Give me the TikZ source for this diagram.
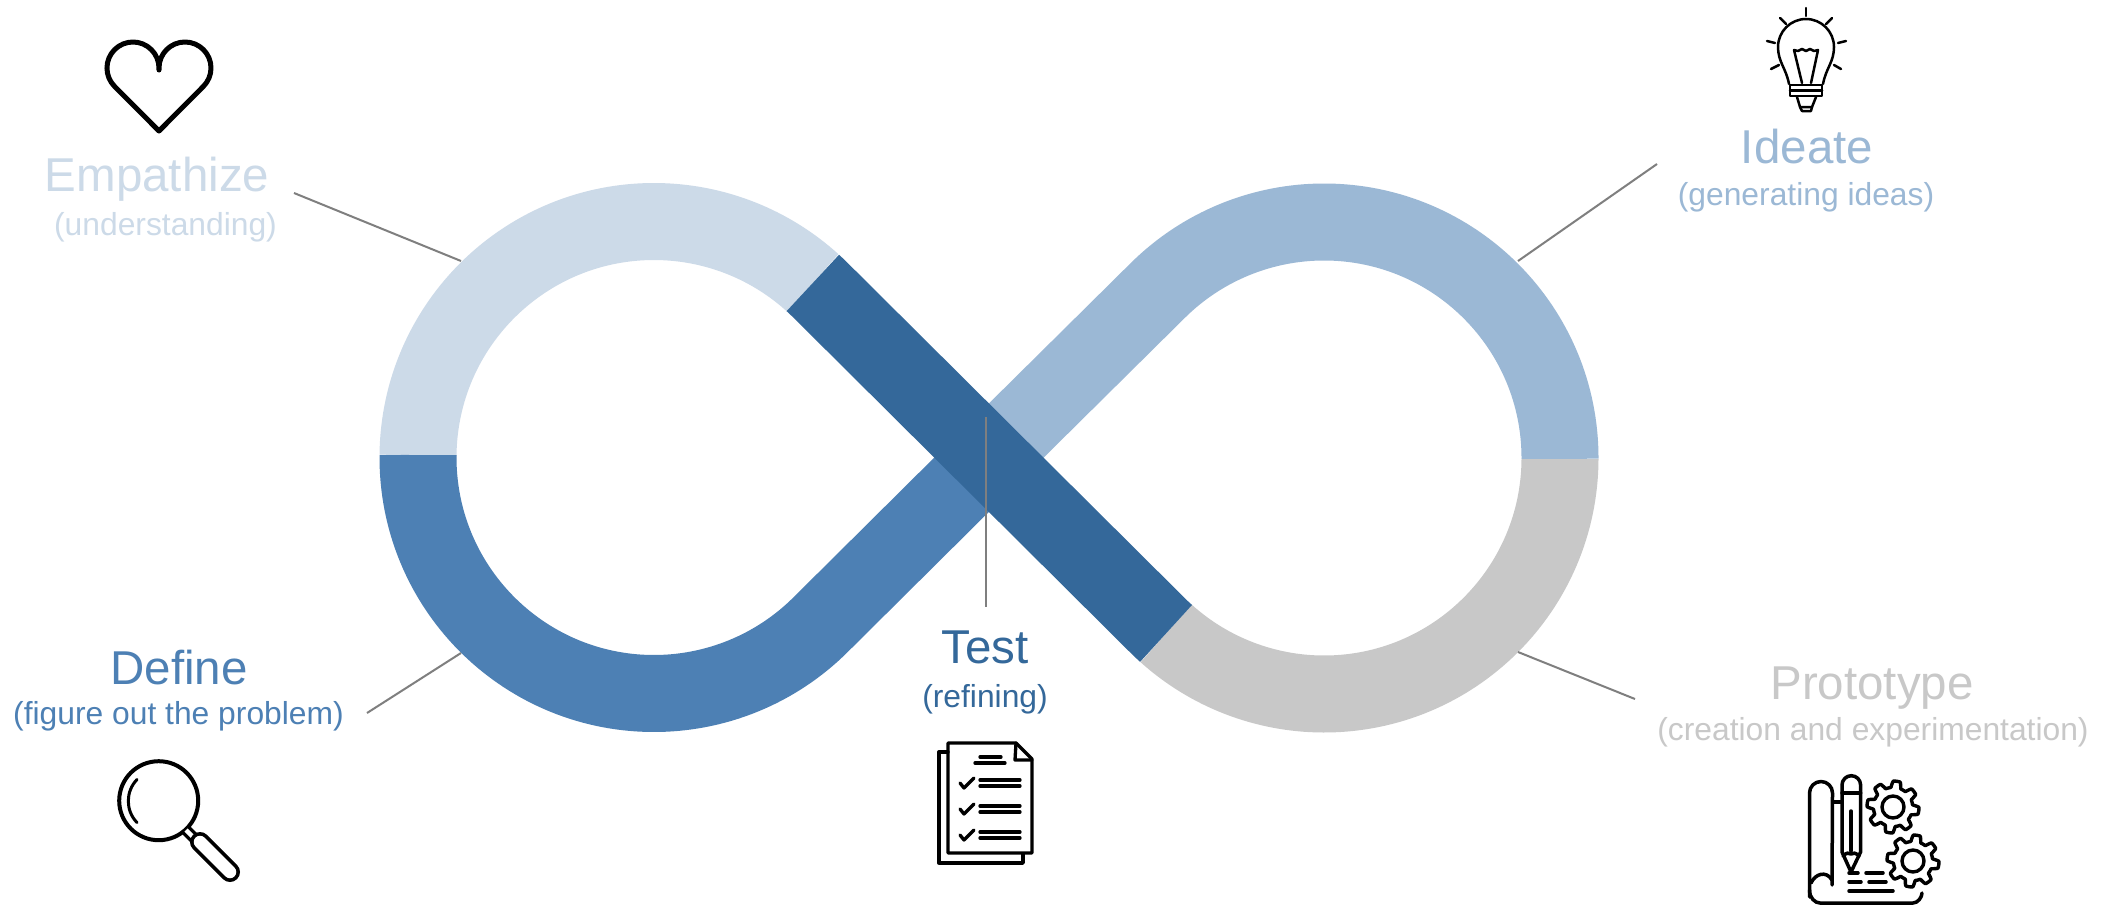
\documentclass[tikz,border=0pt]{standalone}
\usepackage{fontspec}
\setmainfont{Liberation Sans}
\definecolor{cEmp}{HTML}{CCDAE8}
\definecolor{cIde}{HTML}{9BB8D5}
\definecolor{cDef}{HTML}{4D80B4}
\definecolor{cPro}{HTML}{C8C8C8}
\definecolor{cTes}{HTML}{34689A}
\definecolor{cLin}{HTML}{7F7F7F}
\tikzset{
  band/.style={line width=77pt,line cap=butt,line join=round},
  leader/.style={draw=cLin,line width=2pt},
  titletext/.style={anchor=base,inner sep=0pt,font=\fontsize{47.5}{50}\selectfont},
  subtext/.style={anchor=base,inner sep=0pt,font=\fontsize{31.8}{34}\selectfont},
  icon/.style={draw=black,line cap=round,line join=round,line width=#1},
  icon/.default=3.3pt
}
\newcommand{\gearshape}[2]{%
  \draw[icon=3.4pt] plot[domain=0:360,samples=193,smooth] ({#1+(22.8+3.2*max(-1,min(1,2.2*sin(8*\x+22.5))))*cos(\x)},{#2+(22.8+3.2*max(-1,min(1,2.2*sin(8*\x+22.5))))*sin(\x)}) -- cycle;
  \draw[icon=3.4pt] (#1,#2) circle (11);
}
\begin{document}
\begin{tikzpicture}[x=1pt,y=-1pt]
\path[fill=white,use as bounding box] (0,0) rectangle (2115,905);

% infinity band
\draw[band,cEmp] (654,457.5) ++(180.6:236) arc (180.6:312.3:236);
\draw[band,cDef] (654,457.5) ++(180.6:236) arc (180.6:45:236) -- (989,457.5);
\draw[band,cPro] (1324,458) ++(0.2:236) arc (0.2:132:236);
\draw[band,cIde] (1324,458) ++(0.2:236) arc (0.2:-135:236) -- (989,457.5);
\draw[band,cTes] (654,457.5) ++(312.3:236) arc (312.3:315:236) -- (1157.1,624.9) arc (135:132:236);

% anchors of leaders
\coordinate (eA) at (294,193);
\coordinate (eB) at (461,261);
\coordinate (iA) at (1657,164);
\coordinate (iB) at (1518,261);
\coordinate (dA) at (367,713);
\coordinate (dB) at (461,653);
\coordinate (pA) at (1635,699);
\coordinate (pB) at (1518,652);
\coordinate (tA) at (986,417);
\coordinate (tB) at (986,607);
\draw[leader] (eA) -- (eB);
\draw[leader] (iA) -- (iB);
\draw[leader] (dA) -- (dB);
\draw[leader] (pA) -- (pB);
\draw[leader] (tA) -- (tB);

% labels
\node[titletext,text=cEmp] (empT) at (157,191) {Empathize};
\node[subtext,text=cEmp] (empS) at (165.5,235) {(understanding)};
\node[titletext,text=cIde] (ideT) at (1807,163) {Ideate};
\node[subtext,text=cIde] (ideS) at (1806,205) {(generating ideas)};
\node[titletext,text=cDef] (defT) at (179,684) {Define};
\node[subtext,text=cDef] (defS) at (178.5,724) {(figure out the problem)};
\node[titletext,text=cTes] (tesT) at (985,663) {Test};
\node[subtext,text=cTes] (tesS) at (985,707) {(refining)};
\node[titletext,text=cPro] (proT) at (1872,699) {Prototype};
\node[subtext,text=cPro] (proS) at (1873,740) {(creation and experimentation)};

% heart
\draw[icon=5pt] (159,131) -- (114.6,86.4) arc (135:360:26) -- (159,70) -- (159,68) arc (180:405:26) -- cycle;

% bulb
\begin{scope}[icon=2.5pt]
\draw (1806,8) -- (1806,16);
\draw (1780,18) -- (1786,24);
\draw (1832,18) -- (1826,24);
\draw (1767,41) -- (1775,43);
\draw (1846,41) -- (1838,43);
\draw (1771,69) -- (1779,65);
\draw (1841,69) -- (1834,65);
\draw (1789,84) .. controls (1786,68) and (1778,62) .. (1778,47) arc (180:360:28) .. controls (1834,62) and (1826,68) .. (1823,84);
\draw (1802,83) -- (1794,50) -- (1798,51) -- (1802,49) -- (1806,51) -- (1810,49) -- (1814,51) -- (1818,50) -- (1811,83);
\draw (1790,85) -- (1822,85) (1790,85) -- (1790,96) -- (1822,96) -- (1822,85);
\draw (1790,90.5) -- (1822,90.5);
\draw (1797,97) -- (1800,107) -- (1812,107) -- (1816,97);
\draw (1800,107) -- (1802,111) -- (1811,111) -- (1812,107);
\end{scope}

% magnifier
\draw[icon=4pt] (158.7,800.7) circle (39.5);
\draw[icon=3pt] (137,779.5) arc (224:136:31);
\draw[line width=11pt,black] (186,830) -- (194,838);
\draw[line width=4.5pt,white] (186,830) -- (194,838);
\draw[line width=20pt,black,line cap=round] (200,842) -- (230,872);
\draw[line width=12.5pt,white,line cap=round] (200,842) -- (230,872);

% checklist
\begin{scope}[icon=3.3pt]
\draw (948,752) -- (939,752) -- (939,863) -- (1023,863) -- (1023,854);
\draw (948,743) -- (1016,743) -- (1032,759) -- (1032,853) -- (948,853) -- cycle;
\draw (1016,743) -- (1015,760) -- (1032,760);
\draw (980,757) -- (1001,757);
\draw (975,763) -- (1005,763);
\foreach \d in {0,26,52}{
  \draw (960,783+\d) -- (964,788+\d) -- (974,778+\d);
  \draw (980,780+\d) -- (1020,780+\d);
  \draw (980,786+\d) -- (1020,786+\d);
}
\end{scope}

% prototype
\begin{scope}[icon=3.5pt]
\draw (1809.5,897) -- (1809.5,793) arc (180:360:11.5) -- (1832,885);
\draw (1811,883) .. controls (1815,874) and (1826,870) .. (1832,880);
\draw (1809.5,890) .. controls (1809.5,898) and (1815,903) .. (1820,903) -- (1913,903) .. controls (1918,903) and (1922,897) .. (1922,893);
\draw (1834,802) -- (1842,802);
\draw (1842,852) -- (1842,785) arc (180:360:9.3) -- (1860.6,852) -- (1851,872) -- cycle;
\draw (1842,793) -- (1860.6,793);
\draw (1851,811) -- (1851,851);
\draw (1843,856) .. controls (1846,853) and (1849,852) .. (1851,854) .. controls (1853,852) and (1856,853) .. (1859,856);
\draw (1849,873) -- (1858,873);
\draw (1866,873) -- (1883,873);
\draw (1849,882) -- (1861,882);
\draw (1869,882) -- (1886,882);
\draw (1849,891) -- (1893,891);
\end{scope}
\gearshape{1893}{807}
\gearshape{1913}{861}
\end{tikzpicture}
\end{document}
